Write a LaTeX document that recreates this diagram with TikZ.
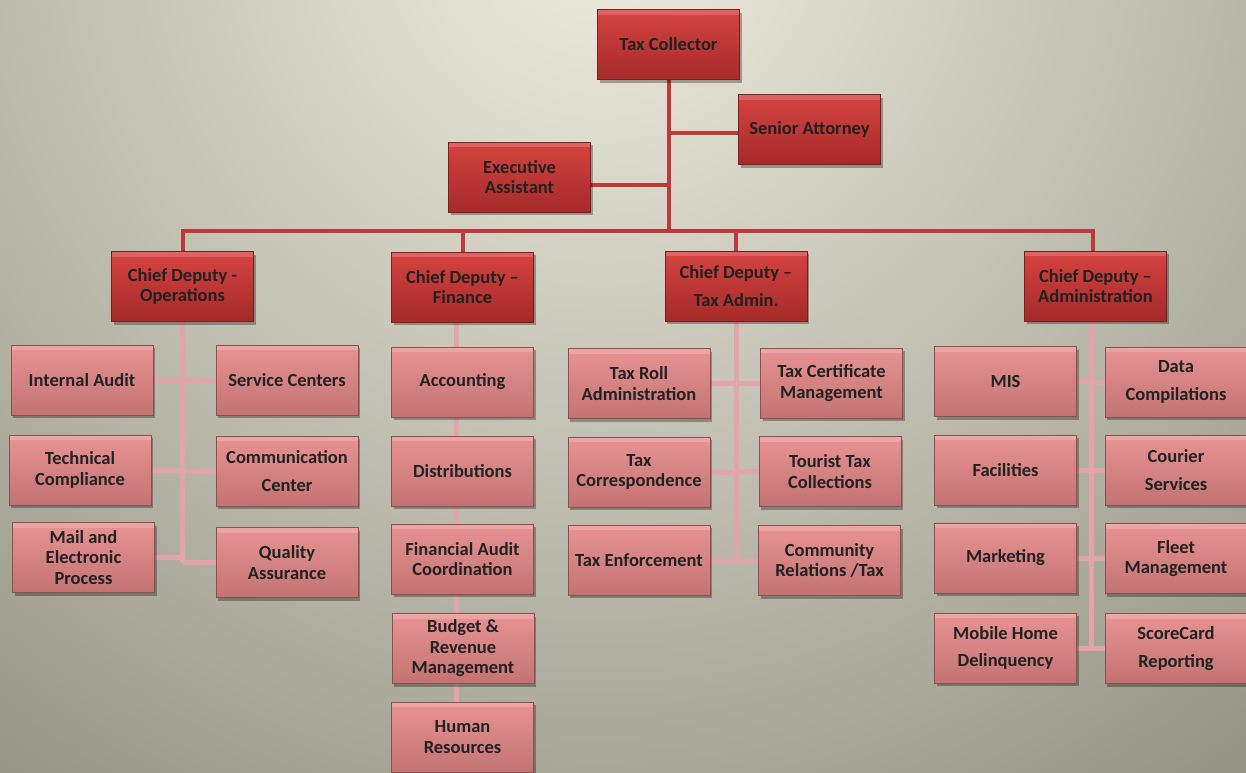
\documentclass[tikz,border=0pt]{standalone}
\usepackage{fontspec}
\setmainfont{Carlito}
\usetikzlibrary{shadows}
\pgfdeclarelayer{back}
\pgfdeclarelayer{lines}
\pgfsetlayers{back,lines,main}
\definecolor{bgtop}{HTML}{EEEDE0}
\definecolor{bgbot}{HTML}{8E8D7D}
\definecolor{chieftop}{HTML}{D64441}
\definecolor{chiefbot}{HTML}{A52A2A}
\definecolor{chiefline}{HTML}{7A1E1E}
\definecolor{unittop}{HTML}{E89393}
\definecolor{unitbot}{HTML}{C37272}
\definecolor{unitline}{HTML}{8A5050}
\definecolor{linered}{HTML}{BE3A3A}
\definecolor{linepink}{HTML}{E2A4A6}
\definecolor{boxtext}{HTML}{222222}
\tikzset{
  box/.style={rectangle, minimum width=142, minimum height=70, inner sep=2pt,
    align=center, font=\fontsize{18.5}{20.5}\selectfont\bfseries, text=boxtext,
    line width=0.8pt,
    drop shadow={shadow xshift=2pt, shadow yshift=-3pt, opacity=0.3, fill=black},
    path picture={\fill[white, opacity=0.18]
      (path picture bounding box.north west) rectangle
      ([yshift=-5pt]path picture bounding box.north east);}},
  chief/.style={box, draw=chiefline, top color=chieftop, bottom color=chiefbot},
  unit/.style={box, draw=unitline, top color=unittop, bottom color=unitbot},
  topline/.style={draw=linered, line width=4pt, line cap=rect},
  subline/.style={draw=linepink, line width=5pt}
}

\begin{document}
\begin{tikzpicture}[x=1pt, y=-1pt]
		%%%%% START %%%%%
		\useasboundingbox (0,0) rectangle (1246,772);
		\begin{pgfonlayer}{back}
		\begin{scope}
		\clip (0,0) rectangle (1246,772);
		\fill[bgbot] (0,0) rectangle (1246,772);
		\shade[inner color=bgtop, outer color=bgbot] (600,-80) circle (1150);
		\end{scope}
		\end{pgfonlayer}
		
		% top
		\node[chief] (tc) at (668.5,44.5) {Tax Collector};
		\node[chief] (sa) at (809.5,129.5) {Senior Attorney};
		\node[chief] (ea) at (519.5,177) {Executive\\Assistant};
		
		% chief deputies
		\node[chief] (cdo) at (182.5,286.5) {Chief Deputy -\\Operations};
		\node[chief] (cdf) at (462.5,287) {Chief Deputy –\\Finance};
		\node[chief] (cdt) at (736,286) {Chief Deputy –\\[7pt]Tax Admin.};
		\node[chief] (cda) at (1095.5,286) {Chief Deputy –\\Administration};
		
		% operations
		\node[unit] (ia) at (82,380) {Internal Audit};
		\node[unit] (sc) at (287,380) {Service Centers};
		\node[unit] (tcm) at (80,470) {Technical\\Compliance};
		\node[unit] (cc) at (287,471) {Communication\\[7pt]Center};
		\node[unit] (mep) at (83.5,557.5) {Mail and\\Electronic\\Process};
		\node[unit] (qa) at (287,562.5) {Quality\\Assurance};
		
		% finance
		\node[unit] (acc) at (462.5,382) {Accounting};
		\node[unit] (dis) at (462.5,471) {Distributions};
		\node[unit] (fac) at (462.5,559) {Financial Audit\\Coordination};
		\node[unit] (brm) at (463,648.5) {Budget \&\\Revenue\\Management};
		\node[unit] (hr) at (462.5,737) {Human\\Resources};
		
		% tax admin
		\node[unit] (tra) at (639,383.5) {Tax Roll\\Administration};
		\node[unit] (tcr) at (831.5,383) {Tax Certificate\\Management};
		\node[unit] (tco) at (639,472) {Tax\\Correspondence};
		\node[unit] (ttc) at (830,471.5) {Tourist Tax\\Collections};
		\node[unit] (te) at (639,560) {Tax Enforcement};
		\node[unit] (crt) at (829.5,560.5) {Community\\Relations /Tax};
		
		% administration
		\node[unit] (mis) at (1005.5,381.5) {MIS};
		\node[unit] (dc) at (1176,382) {Data\\[7pt]Compilations};
		\node[unit] (fa) at (1005.5,470) {Facilities};
		\node[unit] (cs) at (1176,470) {Courier\\[7pt]Services};
		\node[unit] (mk) at (1005.5,558) {Marketing};
		\node[unit] (fm) at (1176,558.5) {Fleet\\Management};
		\node[unit] (mhd) at (1005.5,648) {Mobile Home\\[7pt]Delinquency};
		\node[unit] (sr) at (1176,648.5) {ScoreCard\\[7pt]Reporting};
		
		\begin{pgfonlayer}{lines}
		\coordinate (busL) at (183,231);
		\coordinate (finS) at ([xshift=-6pt]cdf.south);
		\coordinate (admS) at ([xshift=-4pt]cda.south);
		\coordinate (admN) at ([xshift=-2.5pt]cda.north);
		
		\draw[topline] (cdo.north |- busL) -- (admN |- busL);
		\draw[topline] (tc.south) -- (tc.south |- busL);
		\draw[topline] ([yshift=-3.5pt]sa.west) -- ([yshift=-3.5pt]sa.west -| tc.south);
		\draw[topline] ([yshift=-8pt]ea.east) -- ([yshift=-8pt]ea.east -| tc.south);
		\foreach \n in {cdo,cdf,cdt} \draw[topline] (\n.north) -- (\n.north |- busL);
		\draw[topline] (admN) -- (admN |- busL);
		
		\draw[subline] (cdo.south) -- (cdo.south |- qa.west);
		\foreach \n in {ia,tcm,mep} \draw[subline] (\n.east) -- (\n.east -| cdo.south);
		\foreach \n in {sc,cc,qa} \draw[subline] (\n.west) -- (\n.west -| cdo.south);
		
		\draw[subline] (finS) -- (finS |- hr.north);
		
		\draw[subline] (cdt.south) -- (cdt.south |- te.east);
		\foreach \n in {tra,tco,te} \draw[subline] (\n.east) -- (\n.east -| cdt.south);
		\foreach \n in {tcr,ttc,crt} \draw[subline] (\n.west) -- (\n.west -| cdt.south);
		
		\draw[subline] (admS) -- (admS |- mhd.east);
		\foreach \n in {mis,fa,mk,mhd} \draw[subline] (\n.east) -- (\n.east -| admS);
		\foreach \n in {dc,cs,fm,sr} \draw[subline] (\n.west) -- (\n.west -| admS);
		\end{pgfonlayer}
		%%%%% END %%%%%
\end{tikzpicture}
\end{document}
